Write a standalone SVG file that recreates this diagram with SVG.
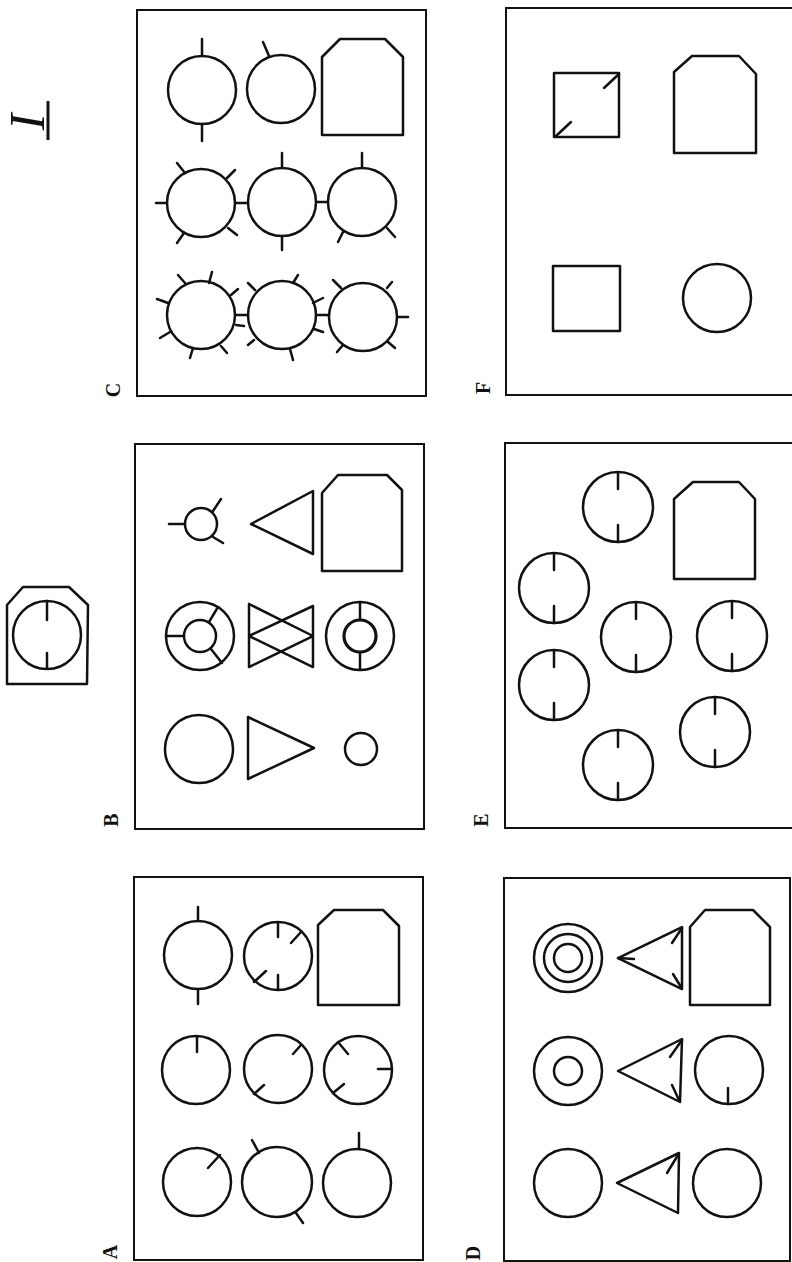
<svg xmlns="http://www.w3.org/2000/svg" width="792" height="1262" viewBox="0 0 792 1262">
<style>
.p{fill:none;stroke:#111;stroke-width:2}
.s,.s *{fill:none;stroke:#111;stroke-width:2.5;stroke-linecap:round;stroke-linejoin:round}
.lbl{font-family:"Liberation Serif",serif;font-weight:bold;font-size:20px;fill:#111}
.num{font-family:"Liberation Serif",serif;font-style:italic;font-size:50px;fill:#111}
</style>
<rect width="792" height="1262" fill="#fff"/>

<g id="title">
<text class="num" transform="translate(44,122) rotate(-90)" text-anchor="middle">I</text>
<line x1="48" y1="101" x2="48" y2="140" stroke="#111" stroke-width="3"/>
</g>

<g id="sample" class="s">
<polygon points="7,605 23,587 69,587 88,605 87,684 7,684"/>
<circle cx="47" cy="635" r="34"/>
<path d="M47 601V620M47 653V668"/>
</g>

<g id="panelC">
<rect class="p" x="137" y="10" width="289" height="386"/>
<text class="lbl" transform="translate(113,390) rotate(-90)" text-anchor="middle" dominant-baseline="central">C</text>
<g class="s">
<circle cx="202" cy="90" r="34"/><path d="M202 39V56M202 124V141"/>
<circle cx="281" cy="89" r="34"/><path d="M263 42L269 56"/>
<polygon points="322,57 340,39 385,39 403,57 403,135 322,135"/>
<circle cx="201" cy="203" r="34"/>
<path d="M156 203H167M177 163L185 173M235 170L227 178M228 228L237 235M184 233L177 243M235 203H248"/>
<circle cx="282" cy="202" r="34"/>
<path d="M282 153V168M282 236V250M316 202H328"/>
<circle cx="362" cy="202" r="34"/>
<path d="M362 153V168M343 232L338 242M387 228L395 237"/>
<circle cx="201" cy="315" r="34"/>
<path d="M157 299L168 303M178 275L185 283M212 272L209 283M238 289L231 295M235 315H248M160 338L170 332M190 358L193 348M227 353L221 346"/>
<circle cx="282" cy="315" r="34"/>
<path d="M248 283L255 290M298 275L293 283M323 298L313 303M316 315H328M236 325L244 326M323 332L314 329M248 345L254 340M293 360L290 349"/>
<circle cx="363" cy="317" r="34"/>
<path d="M333 280L341 288M392 282L387 288M337 352L343 345M395 348L388 342M397 317H408"/>
</g>
</g>

<g id="panelF">
<rect class="p" x="506" y="8" width="300" height="387"/>
<text class="lbl" transform="translate(483,388) rotate(-90)" text-anchor="middle" dominant-baseline="central">F</text>
<g class="s">
<rect x="554" y="73" width="65" height="64"/>
<path d="M619 74L604 88M556 136L571 122"/>
<polygon points="674,72 692,56 739,56 756,74 756,153 674,153"/>
<rect x="553" y="266" width="67" height="65"/>
<circle cx="717" cy="298" r="34"/>
</g>
</g>

<g id="panelB">
<rect class="p" x="135" y="444" width="289" height="385"/>
<text class="lbl" transform="translate(111,820) rotate(-90)" text-anchor="middle" dominant-baseline="central">B</text>
<g class="s">
<circle cx="201" cy="524" r="16"/>
<path d="M169 524H185M213 511L221 499M213 537L223 543"/>
<polygon points="251,524 313,491 313,554"/>
<polygon points="322,493 338,475 387,475 402,490 402,571 322,571"/>
<circle cx="200" cy="636" r="34"/><circle cx="200" cy="636" r="16"/>
<path d="M166 636H184M209 622L218 607M211 649L222 663"/>
<path d="M249 604V667M313 606V667M249 604L313 636M313 606L249 636M249 636L313 667M313 636L249 667"/>
<circle cx="360" cy="636" r="34"/><circle cx="360" cy="636" r="16" style="stroke-width:3.2"/>
<path d="M360 602V620M360 652V670"/>
<circle cx="199" cy="749" r="34"/>
<polygon points="248,717 248,779 314,748"/>
<circle cx="361" cy="749" r="16"/>
</g>
</g>

<g id="panelE">
<rect class="p" x="505" y="443" width="300" height="385"/>
<text class="lbl" transform="translate(481,820) rotate(-90)" text-anchor="middle" dominant-baseline="central">E</text>
<g class="s" style="stroke-width:2.8">
<circle cx="618" cy="507" r="35"/><path d="M618 473V489M618 525V542"/>
<circle cx="554" cy="588" r="35"/><path d="M554 554V570M554 606V623"/>
<circle cx="554" cy="685" r="35"/><path d="M554 651V667M554 703V720"/>
<circle cx="636" cy="637" r="35"/><path d="M636 603V619M636 655V672"/>
<circle cx="732" cy="636" r="35"/><path d="M732 602V618M732 654V671"/>
<circle cx="618" cy="765" r="35"/><path d="M618 731V747M618 783V800"/>
<circle cx="715" cy="732" r="35"/><path d="M715 698V714M715 750V767"/>
<polygon points="674,499 693,482 739,482 755,499 755,579 674,579"/>
</g>
</g>

<g id="panelA">
<rect class="p" x="134" y="877" width="289" height="383"/>
<text class="lbl" transform="translate(110,1252) rotate(-90)" text-anchor="middle" dominant-baseline="central">A</text>
<g class="s">
<circle cx="198" cy="955" r="34"/><path d="M198 907V921M198 989V1004"/>
<circle cx="278" cy="956" r="34"/><path d="M278 923V937M278 975V989M301 932L291 943M254 982L266 971"/>
<polygon points="318,925 334,910 383,910 399,926 399,1005 318,1005"/>
<circle cx="196" cy="1070" r="34"/><path d="M197 1037V1052"/>
<circle cx="278" cy="1069" r="34"/><path d="M301 1045L293 1054M254 1094L264 1085"/>
<circle cx="358" cy="1070" r="34"/><path d="M338 1042L348 1054M333 1093L344 1084M378 1069H392"/>
<circle cx="197" cy="1182" r="34"/><path d="M220 1155L208 1168"/>
<circle cx="277" cy="1182" r="35"/><path d="M252 1140L259 1153M296 1213L303 1223"/>
<circle cx="357" cy="1183" r="34"/><path d="M359 1133V1149"/>
</g>
</g>

<g id="panelD">
<rect class="p" x="504" y="878" width="286" height="383"/>
<text class="lbl" transform="translate(473,1253) rotate(-90)" text-anchor="middle" dominant-baseline="central">D</text>
<g class="s">
<circle cx="568" cy="958" r="34"/><circle cx="568" cy="958" r="24"/><circle cx="568" cy="958" r="14"/>
<polygon points="618,958 682,927 682,989"/>
<path d="M618 958L634 959M682 928L672 943M673 974L681 987"/>
<polygon points="690,927 705,910 753,910 770,927 770,1005 690,1005"/>
<circle cx="568" cy="1071" r="34"/><circle cx="568" cy="1071" r="14"/>
<polygon points="618,1071 682,1039 680,1102"/>
<path d="M682 1040L670 1057M672 1085L679 1100"/>
<circle cx="729" cy="1070" r="34"/><path d="M728 1088V1104"/>
<circle cx="568" cy="1183" r="34"/>
<polygon points="617,1183 679,1153 678,1213"/>
<path d="M678 1155L667 1173"/>
<circle cx="727" cy="1183" r="34"/>
</g>
</g>
</svg>
